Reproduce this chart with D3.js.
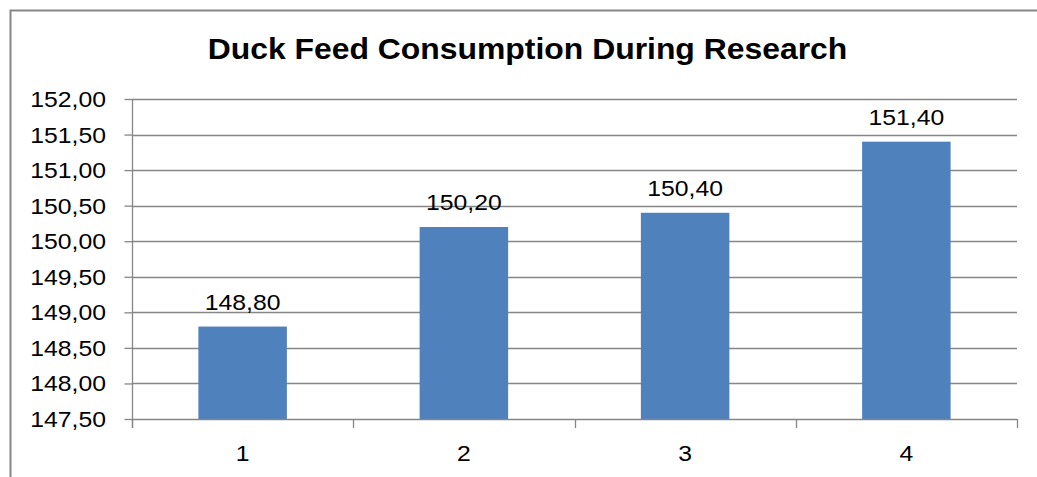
<!DOCTYPE html>
<html>
<head>
<meta charset="utf-8">
<script src="https://cdn.jsdelivr.net/npm/d3@7"></script>
<style>
  html, body { margin: 0; padding: 0; background: #fff; }
  svg { display: block; }
  text { font-family: "Liberation Sans", Arial, sans-serif; fill: #000; }
</style>
</head>
<body>
<svg id="chart" width="1037" height="477"></svg>
<script>
// Feed consumption per treatment group
const categories = ["1", "2", "3", "4"];
const values = [148.80, 150.20, 150.40, 151.40];
const yTicks = [147.50, 148.00, 148.50, 149.00, 149.50, 150.00, 150.50, 151.00, 151.50, 152.00];
const title = "Duck Feed Consumption During Research";

const plot = { left: 132, right: 1017, top: 99, bottom: 419 };
const gridColor = "#868686";
const barColor = "#4F81BD";
const stretch = 1.1;      // slightly wide lettering
const labelSize = "22.5px";

const fmt = v => v.toFixed(2).replace(".", ",");
const place = (px, py) => `translate(${px},${py}) scale(${stretch},1)`;

const svg = d3.select("#chart");

// chart frame
svg.append("rect")
  .attr("x", 10.5).attr("y", 10.5)
  .attr("width", 1100).attr("height", 600)
  .attr("fill", "#fff")
  .attr("stroke", gridColor)
  .attr("stroke-width", 2);

// title
svg.append("text")
  .attr("transform", place(527.5, 59))
  .attr("text-anchor", "middle")
  .style("font-size", "29px")
  .style("font-weight", "bold")
  .text(title);

const x = d3.scaleBand()
  .domain(categories)
  .range([plot.left, plot.right])
  .paddingInner(0.6)
  .paddingOuter(0.3);

const y = d3.scaleLinear()
  .domain([147.5, 152])
  .range([plot.bottom, plot.top]);

// horizontal gridlines
svg.append("g")
  .selectAll("line")
  .data(yTicks.filter(t => t > 147.5))
  .join("line")
  .attr("x1", plot.left).attr("x2", plot.right)
  .attr("y1", d => Math.round(y(d)) + 0.5)
  .attr("y2", d => Math.round(y(d)) + 0.5)
  .attr("stroke", gridColor)
  .attr("stroke-width", 1.3);

// bars
svg.append("g")
  .selectAll("rect")
  .data(values)
  .join("rect")
  .attr("x", (d, i) => x(categories[i]))
  .attr("width", x.bandwidth())
  .attr("y", d => y(d))
  .attr("height", d => y(147.5) - y(d))
  .attr("fill", barColor);

// value labels
svg.append("g")
  .selectAll("text")
  .data(values)
  .join("text")
  .attr("transform", (d, i) => place(x(categories[i]) + x.bandwidth() / 2, y(d) - 17))
  .attr("text-anchor", "middle")
  .style("font-size", labelSize)
  .text(d => fmt(d));

// y axis: line and outward ticks
const yAxis = d3.axisLeft(y)
  .tickValues(yTicks)
  .tickSize(8)
  .tickFormat("");

const gy = svg.append("g")
  .attr("transform", `translate(${plot.left + 0.5},0)`)
  .call(yAxis);
gy.select(".domain").attr("stroke", gridColor).attr("stroke-width", 1.3)
  .attr("d", `M0,${plot.top}V${plot.bottom + 9}`);
gy.selectAll(".tick line").attr("stroke", gridColor).attr("stroke-width", 1.3);

// y tick labels
svg.append("g")
  .selectAll("text")
  .data(yTicks)
  .join("text")
  .attr("transform", d => place(106, y(d) + 8))
  .attr("text-anchor", "end")
  .style("font-size", labelSize)
  .text(d => fmt(d));

// x axis with boundary ticks between categories
const boundaries = d3.range(categories.length + 1)
  .map(i => plot.left + i * (plot.right - plot.left) / categories.length);

const gx = svg.append("g");
gx.append("line")
  .attr("x1", plot.left).attr("x2", plot.right)
  .attr("y1", plot.bottom + 0.5).attr("y2", plot.bottom + 0.5)
  .attr("stroke", gridColor).attr("stroke-width", 1.3);
gx.selectAll(".bt")
  .data(boundaries)
  .join("line")
  .attr("class", "bt")
  .attr("x1", d => Math.round(d) + 0.5).attr("x2", d => Math.round(d) + 0.5)
  .attr("y1", plot.bottom).attr("y2", plot.bottom + 9)
  .attr("stroke", gridColor).attr("stroke-width", 1.3);
gx.selectAll("text")
  .data(categories)
  .join("text")
  .attr("transform", d => place(x(d) + x.bandwidth() / 2, 461))
  .attr("text-anchor", "middle")
  .style("font-size", labelSize)
  .text(d => d);
</script>
</body>
</html>
